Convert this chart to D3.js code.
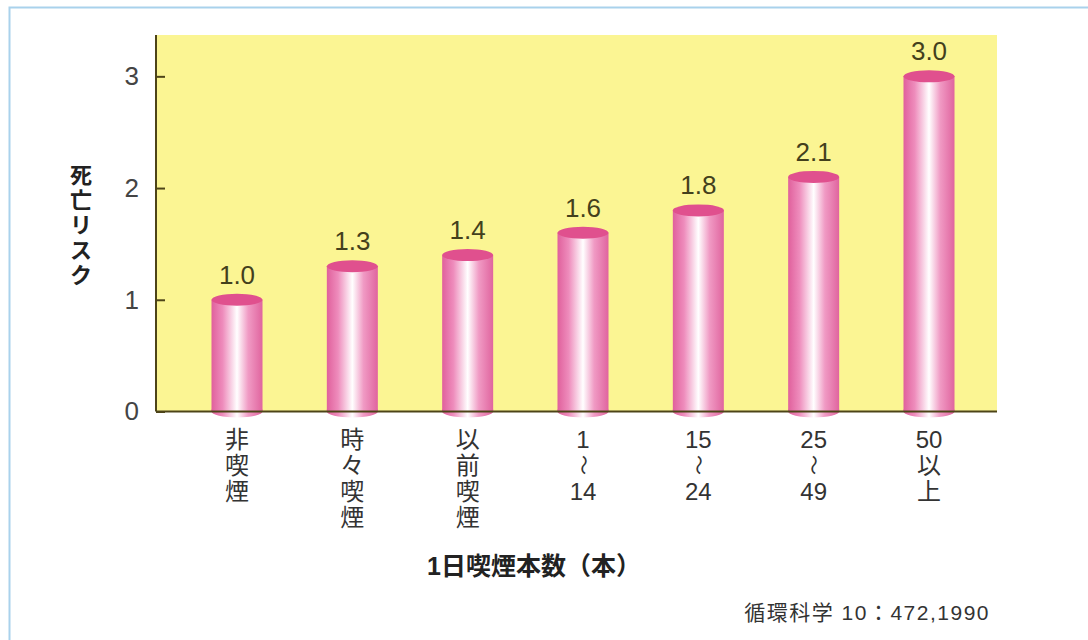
<!DOCTYPE html>
<html>
<head>
<meta charset="utf-8">
<script src="https://d3js.org/d3.v7.min.js"></script>
<style>
  body { margin: 0; background: #fff; }
  text { font-family: "Liberation Sans", "Noto Sans CJK JP", sans-serif; }
</style>
</head>
<body>
<script>
// data
var categories = ["非喫煙", "時々喫煙", "以前喫煙", "1〜14", "15〜24", "25〜49", "50以上"];
var catLines = [["非","喫","煙"], ["時","々","喫","煙"], ["以","前","喫","煙"],
                ["1","〜","14"], ["15","〜","24"], ["25","〜","49"], ["50","以","上"]];
var risk = [1.0, 1.3, 1.4, 1.6, 1.8, 2.1, 3.0];
var riskLabels = ["1.0", "1.3", "1.4", "1.6", "1.8", "2.1", "3.0"];
var yTicks = [0, 1, 2, 3];

var W = 1088, H = 640;
var plotL = 156, plotR = 997, plotT = 35, plotB = 411.5;
var barW = 51, ry = 6;

var svg = d3.select("body").append("svg")
  .attr("width", W).attr("height", H);

// frame
svg.append("rect")
  .attr("x", 9.5).attr("y", 7.5)
  .attr("width", 1200).attr("height", 800)
  .attr("fill", "none").attr("stroke", "#a9d2ec").attr("stroke-width", 2);

var x = d3.scalePoint().domain(categories).range([plotL + 81, plotR - 68]);
var y = d3.scaleLinear().domain([0, 3.37]).range([plotB, plotT]);

// plot background
svg.append("rect")
  .attr("x", plotL).attr("y", plotT)
  .attr("width", plotR - plotL).attr("height", plotB - plotT)
  .attr("fill", "#fbf593");

// gradients
var defs = svg.append("defs");
var g = defs.append("linearGradient").attr("id", "cyl")
  .attr("x1", "0%").attr("x2", "100%").attr("y1", "0%").attr("y2", "0%");
g.append("stop").attr("offset", "0%").attr("stop-color", "#e0609c");
g.append("stop").attr("offset", "22%").attr("stop-color", "#ee8cbc");
g.append("stop").attr("offset", "50%").attr("stop-color", "#ffffff");
g.append("stop").attr("offset", "72%").attr("stop-color", "#f09ac4");
g.append("stop").attr("offset", "100%").attr("stop-color", "#e0649e");

var bars = svg.selectAll("g.bar")
  .data(risk)
  .enter().append("g").attr("class", "bar");

// body
bars.append("rect")
  .attr("x", function(d, i) { return x(categories[i]) - barW / 2; })
  .attr("y", function(d) { return y(d); })
  .attr("width", barW)
  .attr("height", function(d) { return y(0) - y(d); })
  .attr("fill", "url(#cyl)");

// top ellipse
bars.append("ellipse")
  .attr("cx", function(d, i) { return x(categories[i]); })
  .attr("cy", function(d) { return y(d); })
  .attr("rx", barW / 2).attr("ry", ry)
  .attr("fill", "#e0508e");

// value labels
svg.selectAll("text.val")
  .data(risk)
  .enter().append("text").attr("class", "val")
  .attr("x", function(d, i) { return x(categories[i]); })
  .attr("y", function(d) { return y(d) - 16; })
  .attr("text-anchor", "middle")
  .attr("font-size", 26)
  .attr("fill", "#43401c")
  .text(function(d, i) { return riskLabels[i]; });

// y axis
var yAxis = d3.axisLeft(y).tickValues(yTicks).tickFormat(d3.format("d"))
  .tickSizeInner(-9).tickSizeOuter(0).tickPadding(17);
var ya = svg.append("g")
  .attr("transform", "translate(" + plotL + ",0)")
  .call(yAxis);
ya.select(".domain").attr("stroke", "#4d4418").attr("stroke-width", 2)
  .attr("d", "M0," + plotT + "V" + plotB);
ya.selectAll(".tick line").attr("stroke", "#4d4418").attr("stroke-width", 2);
ya.selectAll(".tick text").attr("font-size", 26).attr("fill", "#444")
  .attr("font-family", "Liberation Sans, sans-serif");

// x axis line
svg.append("line")
  .attr("x1", plotL).attr("x2", plotR)
  .attr("y1", plotB).attr("y2", plotB)
  .attr("stroke", "#4d4418").attr("stroke-width", 2);

// bottom of the cylinders, drawn over the axis line
bars.append("path")
  .attr("d", function(d, i) {
    var cx = x(categories[i]);
    return "M" + (cx - barW / 2) + "," + (plotB - 2) +
      "V" + plotB +
      "A" + (barW / 2) + "," + ry + " 0 0 0 " + (cx + barW / 2) + "," + plotB +
      "V" + (plotB - 2) + "Z";
  })
  .attr("fill", "url(#cyl)");

// category labels (vertical stacked)
catLines.forEach(function(lines, i) {
  var t = svg.append("g").attr("class", "cat");
  lines.forEach(function(s, j) {
    var cy = 439 + j * 26;
    if (s === "〜") {
      t.append("text")
        .attr("transform", "translate(" + x(categories[i]) + "," + cy + ") rotate(90)")
        .attr("text-anchor", "middle").attr("dy", "0.36em")
        .attr("font-size", 20).attr("fill", "#333")
        .attr("font-family", "Noto Sans CJK JP, sans-serif")
        .text(s);
    } else {
      t.append("text")
        .attr("x", x(categories[i])).attr("y", cy)
        .attr("text-anchor", "middle").attr("dy", "0.36em")
        .attr("font-size", 24).attr("fill", "#333")
        .text(s);
    }
  });
});

// y title
var yTitle = "死亡リスク".split("");
svg.append("g").selectAll("text")
  .data(yTitle).enter().append("text")
  .attr("x", 81).attr("y", function(d, i) { return 175 + i * 25; })
  .attr("text-anchor", "middle").attr("dy", "0.36em")
  .attr("font-size", 22).attr("font-weight", "bold").attr("fill", "#222")
  .attr("font-family", "Noto Sans CJK JP, sans-serif")
  .text(function(d) { return d; });

// x title
svg.append("text")
  .attr("x", 534).attr("y", 566)
  .attr("text-anchor", "middle").attr("dy", "0.36em")
  .attr("font-size", 25).attr("font-weight", "bold").attr("fill", "#222")
  .attr("font-family", "Noto Sans CJK JP, sans-serif")
  .text("1日喫煙本数（本）");

// source
svg.append("text")
  .attr("x", 990).attr("y", 612)
  .attr("text-anchor", "end").attr("dy", "0.36em")
  .attr("font-size", 21).attr("letter-spacing", 1.5).attr("fill", "#333")
  .text("循環科学 10：472,1990");
</script>
</body>
</html>
